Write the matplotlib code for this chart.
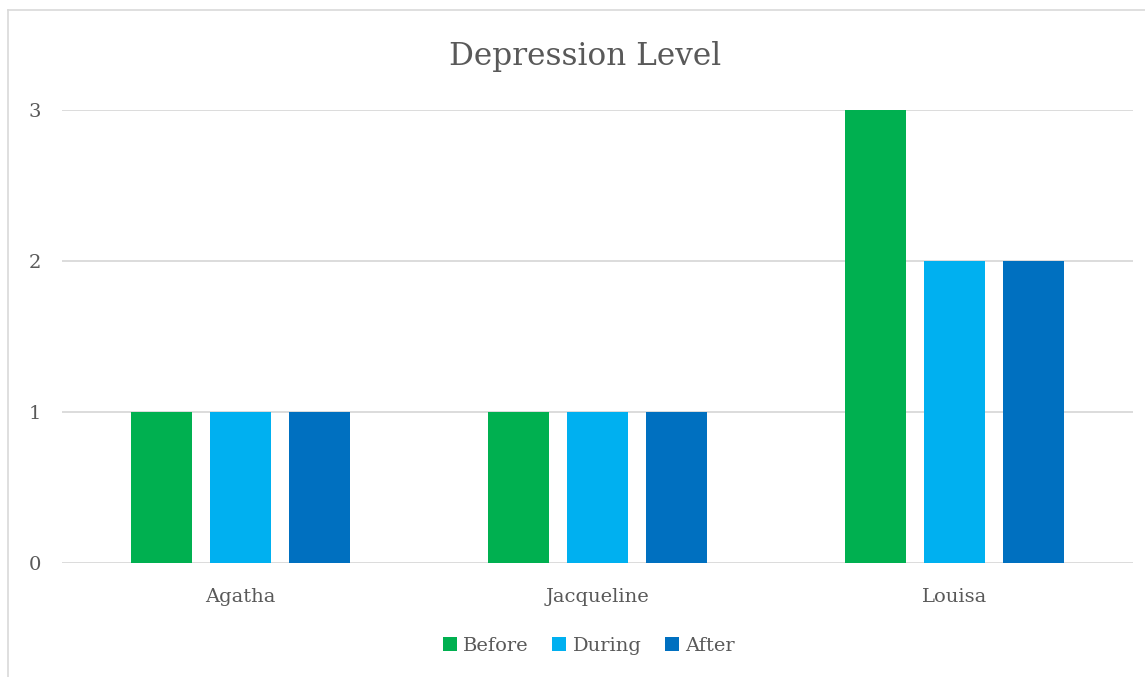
import matplotlib
matplotlib.use("Agg")
import matplotlib.pyplot as plt
import numpy as np
from matplotlib.lines import Line2D

# Chart data
people = ["Agatha", "Jacqueline", "Louisa"]
phases = ["Before", "During", "After"]
before = [1, 1, 3]
during = [1, 1, 2]
after = [1, 1, 2]
series = [before, during, after]
colors = ["#00B050", "#00B0F0", "#0070C0"]
yticks = [0, 1, 2, 3]

plt.rcParams["font.family"] = ["DejaVu Serif"]
text_color = "#595959"
grid_color = "#D9D9D9"

W, H = 1145, 677
fig = plt.figure(figsize=(W / 100, H / 100), dpi=100)

# chart-area border (left and top edges visible)
fig.add_artist(Line2D([8 / W, 8 / W], [0, 1 - 10 / H], transform=fig.transFigure,
                      color=grid_color, lw=1.2))
fig.add_artist(Line2D([8 / W, 1], [1 - 10 / H, 1 - 10 / H], transform=fig.transFigure,
                      color=grid_color, lw=1.2))

left, right, top, bottom = 62, 1133, 110, 563
ax = fig.add_axes([left / W, 1 - bottom / H, (right - left) / W, (bottom - top) / H])

x = np.arange(len(people))
width = 0.173
offset = 0.221
for i, (vals, c, name) in enumerate(zip(series, colors, phases)):
    ax.bar(x + (i - 1) * offset, vals, width, color=c, label=name, zorder=3)

ax.set_xlim(-0.5, len(people) - 0.5)
ax.set_ylim(0, 3)
ax.set_yticks(yticks)
ax.set_xticks(x)
ax.set_xticklabels(people)
ax.grid(axis="y", color=grid_color, lw=1.3, zorder=0)
for s in ax.spines.values():
    s.set_visible(False)
ax.tick_params(axis="both", length=0, colors=text_color, labelsize=14)
ax.tick_params(axis="y", pad=15)
ax.tick_params(axis="x", pad=18)

fig.text(585 / W, 1 - 56 / H, "Depression Level", ha="center", va="center",
         fontsize=22.4, color=text_color)

leg = fig.legend(loc="center", bbox_to_anchor=(589 / W, 1 - 646 / H), ncol=3,
                 frameon=False, fontsize=14, handlelength=0.7, handleheight=0.7,
                 handletextpad=0.35, columnspacing=1.2)
for t in leg.get_texts():
    t.set_color(text_color)

fig.savefig("out.png", dpi=100, facecolor="white")
